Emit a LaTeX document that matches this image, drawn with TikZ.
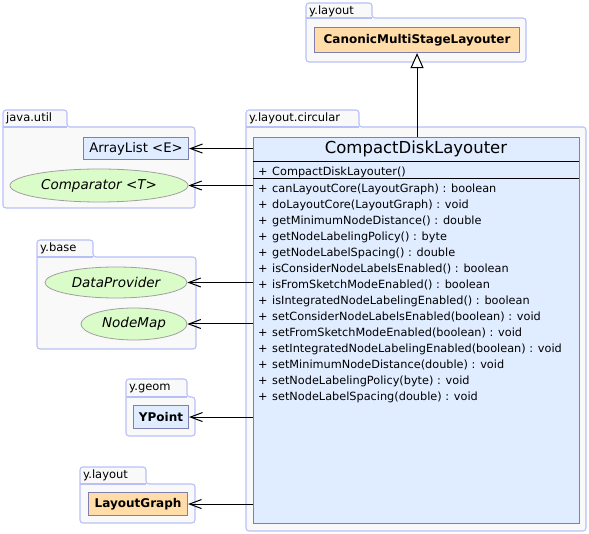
\documentclass[tikz,border=0pt]{standalone}
\usepackage{fontspec}
\setmainfont{DejaVu Sans}
\usetikzlibrary{shapes.geometric,arrows.meta}

\definecolor{pkgline}{RGB}{184,192,248}
\definecolor{pkgfill}{RGB}{249,249,249}
\definecolor{clsline}{RGB}{128,128,176}
\definecolor{clsfill}{RGB}{224,236,255}
\definecolor{clsorange}{RGB}{255,220,168}
\definecolor{ifcfill}{RGB}{218,252,200}
\definecolor{ifcline}{RGB}{160,160,160}

\newcommand\pkgfont{\fontsize{11.5}{13}\selectfont}
\newcommand\clsfont{\fontsize{12}{14}\selectfont\bfseries}
\newcommand\ifcfont{\fontsize{13.5}{15}\selectfont\itshape}
\newcommand\memfont{\fontsize{11.3}{13}\selectfont}

\tikzset{
    pkg/.style={draw=pkgline, fill=pkgfill, line width=1.1pt, rounded corners=3pt},
    pkglabel/.style={anchor=west, inner sep=0pt, font=\pkgfont},
    cls/.style={draw=clsline, fill=clsfill, line width=1.1pt, anchor=north west,
        inner sep=0pt, font=\clsfont},
    ifc/.style={ellipse, draw=ifcline, fill=ifcfill, line width=0.8pt, inner sep=0pt,
        font=\ifcfont},
    member/.style={anchor=west, inner sep=0pt, font=\memfont},
    dep/.style={line width=1pt, -{Straight Barb[length=12pt,width=9pt]}},
    inherit/.style={line width=1pt, -{Triangle[open,length=15pt,width=13pt,fill=white]}},
}

\begin{document}
\begin{tikzpicture}[x=1pt,y=-1pt]
    \useasboundingbox (0,0) rectangle (589,534);

    % package y.layout (top)
    \draw[pkg] (306,62) -- (306,3) -- (372,3) -- (372,18) -- (526,18) -- (526,62) -- cycle;
    \draw[draw=pkgline, line width=1.1pt] (306,18) -- (372,18);
    \node[pkglabel] (toptab) at (309,11) {y.layout};
    \node[cls, fill=clsorange, minimum width=205pt, minimum height=25pt] (cmsl) at (314,27) {CanonicMultiStageLayouter};

    % package java.util
    \draw[pkg] (3,208) -- (3,110) -- (67,110) -- (67,127) -- (195,127) -- (195,208) -- cycle;
    \draw[draw=pkgline, line width=1.1pt] (3,127) -- (67,127);
    \node[pkglabel] (utiltab) at (6,118.5) {java.util};
    \node[cls, font=\fontsize{13.2}{15}\selectfont, minimum width=105pt, minimum height=22pt] (al) at (83,137) {ArrayList <E>};
    \node[ifc, minimum width=178pt, minimum height=33pt] (cmp) at (99,185.5) {Comparator <T>};

    % package y.base
    \draw[pkg] (37,349) -- (37,240) -- (93,240) -- (93,257) -- (196,257) -- (196,349) -- cycle;
    \draw[draw=pkgline, line width=1.1pt] (37,257) -- (93,257);
    \node[pkglabel] (basetab) at (40,248.5) {y.base};
    \node[ifc, minimum width=142pt, minimum height=31pt] (dp) at (116,282.5) {DataProvider};
    \node[ifc, minimum width=106pt, minimum height=32pt] (nm) at (134,324) {NodeMap};

    % package y.geom
    \draw[pkg] (126,436) -- (126,379) -- (187,379) -- (187,397) -- (195,397) -- (195,436) -- cycle;
    \draw[draw=pkgline, line width=1.1pt] (126,397) -- (187,397);
    \node[pkglabel] (geomtab) at (129,388) {y.geom};
    \node[cls, minimum width=55pt, minimum height=23pt] (yp) at (133,405) {YPoint};

    % package y.layout (bottom)
    \draw[pkg] (80,523) -- (80,467) -- (146,467) -- (146,484) -- (195,484) -- (195,523) -- cycle;
    \draw[draw=pkgline, line width=1.1pt] (80,484) -- (146,484);
    \node[pkglabel] (lgtab) at (83,475.5) {y.layout};
    \node[cls, fill=clsorange, minimum width=99pt, minimum height=23pt] (lg) at (88,492) {LayoutGraph};

    % package y.layout.circular
    \draw[pkg] (246,531) -- (246,110) -- (359,110) -- (359,127) -- (586,127) -- (586,531) -- cycle;
    \draw[draw=pkgline, line width=1.1pt] (246,127) -- (359,127);
    \node[pkglabel] (circtab) at (249,118.5) {y.layout.circular};
    \node[cls, minimum width=326pt, minimum height=386pt] (cdl) at (253,137) {};
    \node[inner sep=0pt, font=\fontsize{16.5}{18}\selectfont] (cdltitle) at (416,149) {CompactDiskLayouter};
    \draw[line width=1pt] (253,162) -- (579,162);
    \draw[line width=1pt] (253,179) -- (579,179);
    \node[member] (ctorvis) at (258,172) {+};
    \node[member] (ctor) at (272,172) {CompactDiskLayouter()};
    \foreach \m [count=\i, evaluate=\i as \y using 173+16*\i] in {
        canLayoutCore(LayoutGraph) : boolean,
        doLayoutCore(LayoutGraph) : void,
        getMinimumNodeDistance() : double,
        getNodeLabelingPolicy() : byte,
        getNodeLabelSpacing() : double,
        isConsiderNodeLabelsEnabled() : boolean,
        isFromSketchModeEnabled() : boolean,
        isIntegratedNodeLabelingEnabled() : boolean,
        setConsiderNodeLabelsEnabled(boolean) : void,
        setFromSketchModeEnabled(boolean) : void,
        setIntegratedNodeLabelingEnabled(boolean) : void,
        setMinimumNodeDistance(double) : void,
        setNodeLabelingPolicy(byte) : void,
        setNodeLabelSpacing(double) : void}
    {
        \node[member] (vis\i) at (258,\y) {+};
        \node[member] (op\i) at (272,\y) {\m};
    }

    % inheritance and dependencies
    \draw[inherit] (cdl.north -| cmsl.south) -- (cmsl.south);
    \draw[dep] (cdl.west |- al.east) -- (al.east);
    \draw[dep] (cdl.west |- cmp.east) -- (cmp.east);
    \draw[dep] (cdl.west |- dp.east) -- (dp.east);
    \draw[dep] (cdl.west |- nm.east) -- (nm.east);
    \draw[dep] (cdl.west |- yp.east) -- (yp.east);
    \draw[dep] (cdl.west |- lg.east) -- (lg.east);
\end{tikzpicture}
\end{document}
